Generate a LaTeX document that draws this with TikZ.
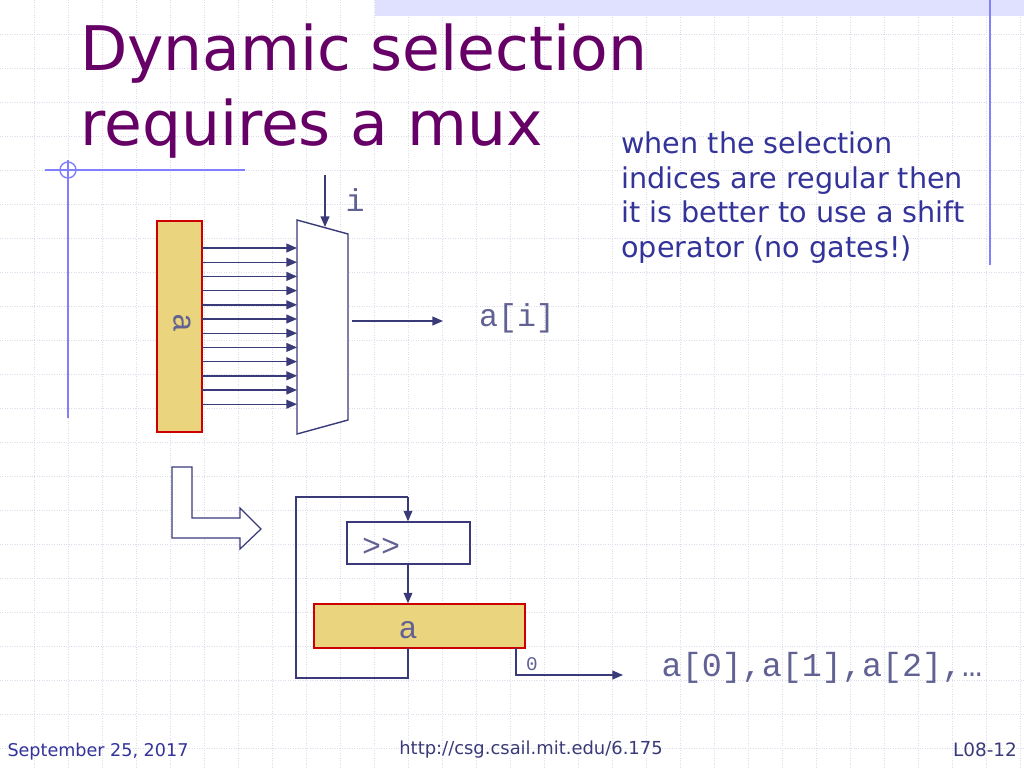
\documentclass[tikz,border=0pt]{standalone}
\usepackage{fontspec}
\setmainfont{DejaVu Sans}
\newfontfamily\monofont{Liberation Mono}
\usetikzlibrary{arrows.meta}
\definecolor{titlepurple}{HTML}{660066}
\definecolor{wire}{HTML}{3A3A78}
\definecolor{txtblue}{HTML}{333399}
\definecolor{regfill}{HTML}{EAD47E}
\definecolor{gridcol}{HTML}{DCDCEA}
\tikzset{
  wire/.style = {draw=wire, line width=0.8pt},
  arr/.style = {wire, -{Triangle[length=6pt,width=5pt]}},
  reg/.style = {draw=red!80!black, fill=regfill, line width=0.8pt},
  mono/.style = {font=\monofont\fontsize{18}{20}\selectfont, text=wire!80},
}
\begin{document}
\begin{tikzpicture}[x=0.02cm, y=-0.02cm]
  \useasboundingbox (0,0) rectangle (1024,768);
  \fill[white] (0,0) rectangle (1024,768);

  % background grid
  \foreach \gx in {34,68,...,1024}
    \draw[gridcol, densely dotted, line width=0.4pt] (\gx,0) -- (\gx,768);
  \foreach \gy in {34,68,...,768}
    \draw[gridcol, densely dotted, line width=0.4pt] (0,\gy) -- (1024,\gy);
  \fill[blue!12] (375,0) rectangle (1024,16);
  \draw[blue!50, line width=0.8pt] (990,0) -- (990,265);
  \draw[blue!50, line width=0.8pt] (45,170) -- (245,170);
  \draw[blue!50, line width=0.8pt] (68,160) -- (68,418);
  \draw[blue!50, line width=0.8pt] (68,170) circle (8);

  % title
  \node[anchor=base west, text=titlepurple, font=\fontsize{35}{38}\selectfont] (title1) at (74,70) {Dynamic selection};
  \node[anchor=base west, text=titlepurple, font=\fontsize{35}{38}\selectfont] (title2) at (74,145) {requires a mux};

  % register a and mux
  \node[reg, minimum width=0.9cm, minimum height=4.22cm, inner sep=0] (areg) at (179.5,326.5) {};
  \node[mono, rotate=-90] (alabel) at (182,323) {a};
  \draw[wire, fill=white] (297,220) -- (348,234) -- (348,420) -- (297,434) -- cycle;
  \coordinate (mux) at (322.5,327);
  \foreach \k in {0,...,11}
    \draw[arr] (202,{248+\k*14.2}) -- (297,{248+\k*14.2});
  \coordinate (isrc) at (325,175);
  \coordinate (itip) at (325,227);
  \draw[arr] (isrc) -- (itip);
  \node[mono] (ilabel) at (355,200) {i};
  \coordinate (muxout) at (352,321);
  \coordinate (aiend) at (443,321);
  \draw[arr] (muxout) -- (aiend);
  \node[mono] (ailabel) at (517,318) {a[i]};

  % note
  \node[anchor=base west, align=left, text=txtblue, font=\fontsize{16.3}{19.6}\selectfont, inner sep=0] (note) at (621,257)
    {when the selection\\indices are regular then\\it is better to use a shift\\operator (no gates!)};

  % block arrow
  \draw[wire, line width=0.7pt, fill=white] (172,467) -- (192,467) -- (192,518) -- (240,518) -- (240,508)
    -- (261,529) -- (240,549) -- (240,538) -- (172,538) -- cycle;

  % shifter loop
  \node[wire, minimum width=2.46cm, minimum height=0.84cm, inner sep=0] (shift) at (408.5,543) {};
  \node[mono, anchor=west] (shlabel) at (356,547) {>>};
  \node[reg, minimum width=4.22cm, minimum height=0.88cm, inner sep=0] (areg2) at (419.5,626) {};
  \node[mono] (a2label) at (408,630) {a};
  \draw[arr] (shift.south -| 408,0) -- (areg2.north -| 408,0);
  \coordinate (fbtop) at (408,497);
  \draw[wire] (408,648) -- (408,678) -- (296,678) -- (296,497) -- (fbtop);
  \draw[arr] (fbtop) -- (shift.north -| 408,0);
  \coordinate (outend) at (623,675);
  \draw[arr] (516,648) -- (516,675) -- (outend);
  \node[mono, font=\monofont\fontsize{11}{12}\selectfont] (zero) at (532,664) {0};
  \node[mono, font=\monofont\fontsize{19}{21}\selectfont] (seq) at (822,668) {a[0],a[1],a[2],…};

  % footer
  \node[text=txtblue, font=\fontsize{10}{12}\selectfont] (date) at (98,752) {September 25, 2017};
  \node[text=wire, font=\fontsize{10.2}{12}\selectfont] (url) at (531,750) {http://csg.csail.mit.edu/6.175};
  \node[text=wire, font=\fontsize{10.5}{12}\selectfont] (page) at (985,750) {L08-12};
\end{tikzpicture}
\end{document}
